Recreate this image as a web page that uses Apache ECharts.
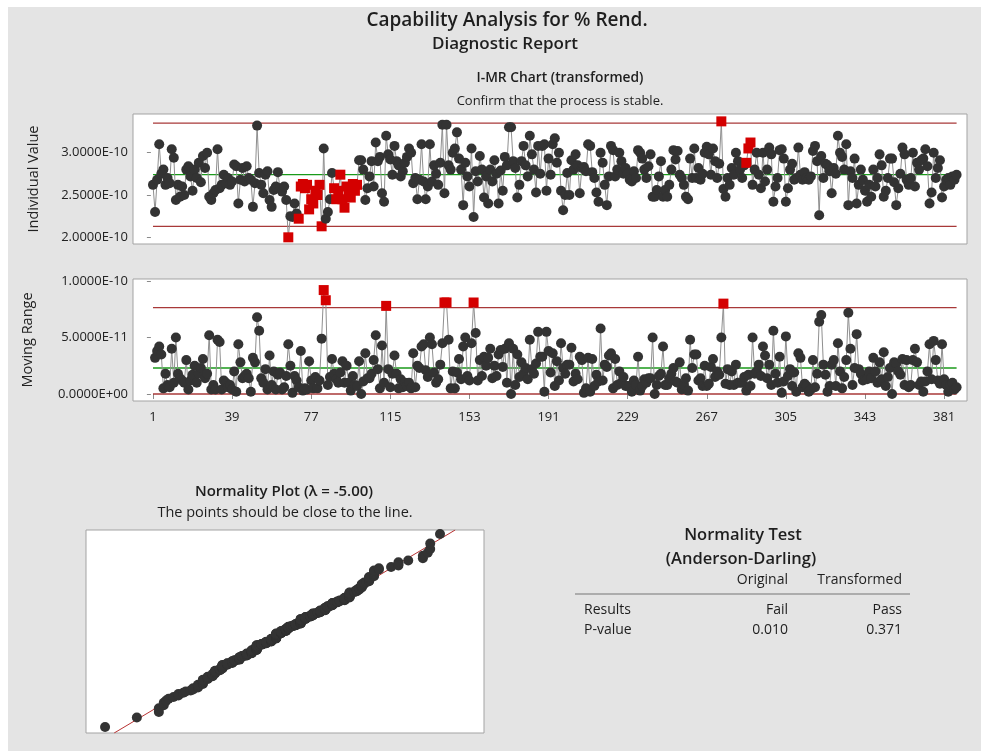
<!DOCTYPE html>
<html><head><meta charset="utf-8">
<script src="https://cdn.jsdelivr.net/npm/echarts@6/dist/echarts.min.js"></script>
<style>html,body{margin:0;padding:0;background:#fff;}#c{width:981px;height:751px;}</style>
</head><body><div id="c"></div>
<script>
// Individual (transformed) values, in units of 1E-10
const individualValues = [
2.62,2.30,2.68,3.10,2.75, 2.80,2.62,2.70,2.64,3.04, 2.94,2.44,2.62,2.48,2.60, 2.50,2.80,2.84,2.72,2.55,
2.80,2.70,2.88,2.65,2.96, 2.82,3.00,2.48,2.44,2.52, 2.56,3.04,2.58,2.62,2.74, 2.64,2.70,2.62,2.66,2.86,
2.84,2.40,2.68,2.82,2.66, 2.84,2.70,2.68,2.36,2.64, 3.32,2.76,2.62,2.52,2.74, 2.78,2.44,2.36,2.56,2.60,
2.77,2.58,2.54,2.60,2.44, 2.00,2.25,2.24,2.40,2.28, 2.22,2.60,2.63,2.58,2.62, 2.33,2.45,2.40,2.55,2.50,
2.62,2.13,3.05,2.22,2.30, 2.45,2.76,2.58,2.45,2.55, 2.74,2.45,2.35,2.60,2.50, 2.47,2.63,2.55,2.62,2.91,
2.91,2.80,2.44,2.58,2.72, 2.90,2.60,3.12,2.90,2.95, 2.52,2.42,3.20,2.98,2.92, 2.74,3.08,2.90,2.85,2.72,
2.78,2.88,2.95,3.05,3.00, 2.64,2.70,2.45,2.68,3.10, 2.66,2.45,2.60,3.10,2.66, 2.85,2.75,2.62,2.88,3.33,
2.52,3.33,2.85,2.80,3.00, 3.05,3.24,2.93,2.80,2.38, 2.88,2.72,2.60,3.05,2.24, 2.78,2.66,2.96,2.80,2.47,
2.72,2.40,2.80,2.66,2.91, 2.75,2.40,2.79,2.55,2.95, 2.85,3.30,3.30,2.90,2.82, 2.47,2.62,2.90,3.08,2.85,
2.72,3.20,2.98,2.80,2.53, 3.08,2.75,3.08,3.10,2.55, 2.93,2.74,3.10,3.17,2.88, 3.00,2.55,2.32,2.50,2.76,
2.50,2.91,2.80,2.98,2.85, 2.52,2.82,2.83,2.78,3.10, 3.08,2.77,2.70,2.53,2.42, 3.00,2.88,2.62,2.38,2.72,
3.08,3.03,2.72,2.80,3.00, 2.90,2.75,2.82,2.75,2.68, 2.66,2.78,2.70,3.03,3.00, 2.93,2.80,2.70,2.84,2.98,
2.48,2.48,2.56,2.72,2.90, 2.48,2.56,2.48,2.62,2.80, 3.03,2.92,3.02,2.74,2.70, 2.62,2.48,2.45,2.93,2.70,
3.05,2.70,2.82,2.68,2.75, 3.00,3.07,2.98,2.74,3.05, 2.90,2.70,2.87,3.37,2.57, 2.48,2.70,2.62,2.82,2.74,
3.00,2.90,2.80,2.70,2.85, 2.88,3.05,3.12,2.62,2.80, 3.00,2.74,2.58,3.00,2.66, 2.80,3.06,2.98,2.42,2.60,
2.70,3.03,3.04,2.93,2.42, 2.58,2.80,2.87,2.68,2.70, 3.06,2.74,2.68,2.77,2.70, 2.68,2.72,3.02,3.08,2.90,
2.26,2.96,2.70,2.87,2.85, 2.78,2.52,2.82,2.75,3.20, 3.00,2.95,2.80,3.10,2.38, 2.78,2.70,2.93,2.40,2.62,
2.80,2.68,2.55,2.42,2.62, 2.48,2.80,2.60,2.70,2.98, 2.85,2.48,2.55,2.70,2.93, 2.93,2.65,2.38,2.58,2.75,
3.06,2.98,2.68,2.62,2.70, 3.00,2.60,2.88,2.80,2.91, 2.93,3.04,2.84,2.40,2.53, 3.00,2.70,2.82,2.91,2.47,
2.60,2.68,2.70,2.62,2.72, 2.68,2.74
];
// observations flagged red on the I chart (1-based)
const flaggedIndividual = [66,71,72,73,74,75,76,77,78,79,80,81,82,88,89,90,91,92,93,94,95,96,97,98,99,274,286,287,288];
// control limits (units of 1E-10): LCL, CL, UCL
const iLimits = [2.13, 2.74, 3.35];
const mrLimits = [0, 0.23, 0.764];
// tick labels
const xTickLabels = [1,39,77,115,153,191,229,267,305,343,381];
const iTickValues = [2.0, 2.5, 3.0];
const mrTickValues = [0, 0.5, 1.0];
// normality test table
const testHeaders = ['Original','Transformed'];
const testRows = [['Results','Fail','Pass'],['P-value','0.010','0.371']];

const SCALE = 1e-10;
function sci(v){
  if (Math.abs(v) < 1e-9) return '0.0000E+00';
  const s = (v*SCALE).toExponential(4);
  const parts = s.split('e');
  const sign = parts[1][0];
  const d = parts[1].slice(1).padStart(2,'0');
  return parts[0] + 'E' + sign + d;
}
function invNorm(p){
  const a=[-3.969683028665376e+01,2.209460984245205e+02,-2.759285104469687e+02,1.383577518672690e+02,-3.066479806614716e+01,2.506628277459239e+00];
  const b=[-5.447609879822406e+01,1.615858368580409e+02,-1.556989798598866e+02,6.680131188771972e+01,-1.328068155288572e+01];
  const c=[-7.784894002430293e-03,-3.223964580411365e-01,-2.400758277161838e+00,-2.549732539343734e+00,4.374664141464968e+00,2.938163982698783e+00];
  const d=[7.784695709041462e-03,3.224671290700398e-01,2.445134137142996e+00,3.754408661907416e+00];
  const pl=0.02425; let q,r;
  if(p<pl){q=Math.sqrt(-2*Math.log(p));return (((((c[0]*q+c[1])*q+c[2])*q+c[3])*q+c[4])*q+c[5])/((((d[0]*q+d[1])*q+d[2])*q+d[3])*q+1);}
  if(p<=1-pl){q=p-0.5;r=q*q;return (((((a[0]*r+a[1])*r+a[2])*r+a[3])*r+a[4])*r+a[5])*q/(((((b[0]*r+b[1])*r+b[2])*r+b[3])*r+b[4])*r+1);}
  q=Math.sqrt(-2*Math.log(1-p));return -(((((c[0]*q+c[1])*q+c[2])*q+c[3])*q+c[4])*q+c[5])/((((d[0]*q+d[1])*q+d[2])*q+d[3])*q+1);
}

const n = individualValues.length;
const RED = '#d40000', DOT = '#333333', CONN = '#8f8f8f', LIM = '#a83838', CEN = '#1a9a1a';
const FONT = '"Open Sans", "Noto Sans", sans-serif';

const flagSet = new Set(flaggedIndividual);
const iData = individualValues.map((v,i) => flagSet.has(i+1)
  ? {value:[i+1,v], symbol:'rect', symbolSize:10, itemStyle:{color:RED}}
  : [i+1,v]);
const mrData = [];
for (let i=1;i<n;i++){
  const m = Math.abs(individualValues[i]-individualValues[i-1]);
  mrData.push(m > mrLimits[2]
    ? {value:[i+1,m], symbol:'rect', symbolSize:10, itemStyle:{color:RED}}
    : [i+1,m]);
}
// normality plot
const sorted = individualValues.slice().sort((a,b)=>a-b);
const normPts = sorted.map((v,i)=>[v, invNorm((i+1-0.3)/(n+0.4))]);
const mean = individualValues.reduce((s,v)=>s+v,0)/n;
const sd = Math.sqrt(individualValues.reduce((s,v)=>s+(v-mean)*(v-mean),0)/(n-1));
const zMin = -3.09, zMax = 3.03;
const fitLine = [[mean+zMin*sd, zMin],[mean+zMax*sd, zMax]];

function limLine(xi, yi, val, color){
  return {type:'line', xAxisIndex:xi, yAxisIndex:yi, data:[[1,val],[n,val]], symbol:'none',
    lineStyle:{color:color, width:1.3}, silent:true, z:1, animation:false};
}
const gridBase = {show:true, backgroundColor:'#fff', borderColor:'#a3a3a3', borderWidth:1};
const hiddenX = (gi)=>({type:'value', gridIndex:gi, min:-8.6, max:392, axisLine:{show:false}, axisTick:{show:false}, axisLabel:{show:false}, splitLine:{show:false}});

const tx = (text, x, y, size, weight, align) => ({type:'text', x:x, y:y, style:{text:text, fill:'#1e1e1e', font: (weight||'normal')+' '+size+'px '+FONT, textAlign:align||'center', textVerticalAlign:'middle'}});

const graphics = [
  {type:'rect', shape:{x:0,y:0,width:981,height:7}, style:{fill:'#fff'}, silent:true},
  {type:'rect', shape:{x:0,y:0,width:8,height:751}, style:{fill:'#fff'}, silent:true},
  tx('Capability Analysis for % Rend.', 507, 21, 19, '600'),
  tx('Diagnostic Report', 505, 44, 17, '600'),
  tx('I-MR Chart (transformed)', 560, 78, 13.8, '600'),
  tx('Confirm that the process is stable.', 560, 101, 13),
  tx('Normality Plot (\u03bb = -5.00)', 284, 492, 15, '600'),
  tx('The points should be close to the line.', 285, 513, 14.5),
  tx('Normality Test', 743, 535, 16.5, '600'),
  tx('(Anderson-Darling)', 741, 559, 16.5, '600'),
  tx(testHeaders[0], 788, 580, 14, 'normal', 'right'),
  tx(testHeaders[1], 902, 580, 14, 'normal', 'right'),
  {type:'line', shape:{x1:575,y1:594,x2:910,y2:594}, style:{stroke:'#9a9a9a', lineWidth:1.5}},
];
testRows.forEach((row, k) => {
  const y = 610 + k*20;
  graphics.push(tx(row[0], 584, y, 14, 'normal', 'left'));
  graphics.push(tx(row[1], 788, y, 14, 'normal', 'right'));
  graphics.push(tx(row[2], 902, y, 14, 'normal', 'right'));
});

const chart = echarts.init(document.getElementById('c'), null, {renderer:'canvas'});
chart.setOption({
  backgroundColor:'#e4e4e4',
  animation:false,
  textStyle:{fontFamily:FONT},
  grid:[
    Object.assign({left:133, top:114, width:834, height:130}, gridBase),
    Object.assign({left:133, top:279, width:834, height:122}, gridBase),
    Object.assign({left:86, top:530, width:398, height:203}, gridBase)
  ],
  xAxis:[
    hiddenX(0),
    {type:'value', gridIndex:1, min:-8.6, max:392, axisLine:{show:false}, splitLine:{show:false},
      axisTick:{show:true, customValues:xTickLabels, length:5, lineStyle:{color:'#8a8a8a'}},
      axisLabel:{customValues:xTickLabels, fontSize:13, color:'#222', margin:10, fontFamily:FONT}},
    {type:'value', gridIndex:2, min:1.922, max:3.55, axisLine:{show:false}, axisTick:{show:false}, axisLabel:{show:false}, splitLine:{show:false}}
  ],
  yAxis:[
    {type:'value', gridIndex:0, min:1.921, max:3.457, axisLine:{show:false}, splitLine:{show:false},
      axisTick:{show:true, customValues:iTickValues, length:4, lineStyle:{color:'#8a8a8a'}},
      axisLabel:{customValues:iTickValues, formatter:sci, fontSize:13, color:'#222', margin:5, fontFamily:FONT},
      name:'Individual Value', nameLocation:'middle', nameGap:92, nameTextStyle:{fontSize:14.5, color:'#222', fontFamily:FONT}},
    {type:'value', gridIndex:1, min:-0.062, max:1.018, axisLine:{show:false}, splitLine:{show:false},
      axisTick:{show:true, customValues:mrTickValues, length:4, lineStyle:{color:'#8a8a8a'}},
      axisLabel:{customValues:mrTickValues, formatter:sci, fontSize:13, color:'#222', margin:5, fontFamily:FONT},
      name:'Moving Range', nameLocation:'middle', nameGap:98, nameTextStyle:{fontSize:14.5, color:'#222', fontFamily:FONT}},
    {type:'value', gridIndex:2, min:zMin, max:zMax, axisLine:{show:false}, axisTick:{show:false}, axisLabel:{show:false}, splitLine:{show:false}}
  ],
  graphic: graphics,
  series:[
    limLine(0,0,iLimits[2],LIM), limLine(0,0,iLimits[0],LIM), limLine(0,0,iLimits[1],CEN),
    {type:'line', xAxisIndex:0, yAxisIndex:0, data:iData, symbol:'circle', symbolSize:10, showAllSymbol:true,
      lineStyle:{color:CONN, width:1}, itemStyle:{color:DOT}, z:3},
    limLine(1,1,mrLimits[2],LIM), limLine(1,1,mrLimits[0],LIM), limLine(1,1,mrLimits[1],CEN),
    {type:'line', xAxisIndex:1, yAxisIndex:1, data:mrData, symbol:'circle', symbolSize:10, showAllSymbol:true,
      lineStyle:{color:CONN, width:1}, itemStyle:{color:DOT}, z:3},
    {type:'line', xAxisIndex:2, yAxisIndex:2, data:fitLine, symbol:'none', lineStyle:{color:'#b83232', width:1}, z:2},
    {type:'scatter', xAxisIndex:2, yAxisIndex:2, data:normPts, symbolSize:10, itemStyle:{color:DOT, opacity:1}, z:3}
  ]
});
</script>
</body></html>
